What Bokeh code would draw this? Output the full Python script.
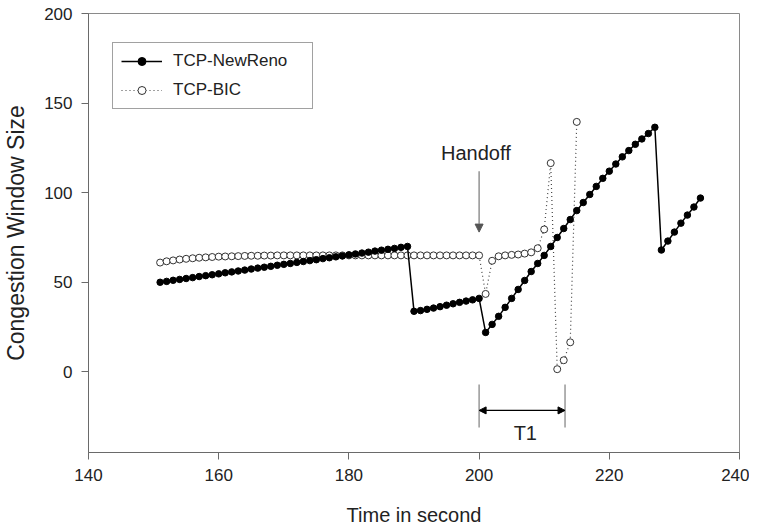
from bokeh.plotting import figure
from bokeh.models import (Arrow, NormalHead, Label, Legend, LegendItem, FixedTicker, Range1d)
from bokeh.embed import file_html
from bokeh.resources import INLINE

# ---- data ----
newreno_t = list(range(151, 190)) + list(range(190, 201)) + list(range(201, 228)) + list(range(228, 235))
newreno_cwnd = [50.0, 50.5, 51.1, 51.6, 52.1, 52.6, 53.2, 53.7, 54.2, 54.7,
                55.3, 55.8, 56.3, 56.8, 57.4, 57.9, 58.4, 58.9, 59.5, 60.0,
                60.5, 61.1, 61.6, 62.1, 62.6, 63.2, 63.7, 64.2, 64.7, 65.3,
                65.8, 66.3, 66.8, 67.4, 67.9, 68.4, 68.9, 69.5, 70.0,
                33.8, 34.2, 34.9, 35.6, 36.4, 37.2, 38.0, 38.8, 39.5, 40.2, 41.0,
                22.0, 26.5, 31.0, 36.0, 41.0, 46.0, 51.0, 56.0, 60.5, 65.0,
                70.0, 75.0, 80.0, 85.0, 90.0, 94.5, 99.0, 103.5, 108.0, 112.0,
                116.0, 120.0, 123.5, 127.0, 130.0, 133.0, 136.5,
                68.0, 73.0, 78.0, 83.0, 87.5, 92.0, 97.0]

bic_t = list(range(151, 216))
bic_cwnd = [61.0, 61.7, 62.2, 62.7, 63.1, 63.4, 63.7, 63.9, 64.1, 64.3,
            64.4, 64.5, 64.6, 64.7, 64.8, 64.8, 64.9, 64.9, 65.0, 65.0,
            65.0, 65.0, 65.0, 65.0, 65.0, 65.0, 65.0, 65.0, 65.0, 65.0,
            65.0, 65.0, 65.0, 65.0, 65.0, 65.0, 65.0, 65.0, 65.0, 65.0,
            65.0, 65.0, 65.0, 65.0, 65.0, 65.0, 65.0, 65.0, 65.0, 65.0,
            43.5, 62.0, 64.5, 65.0, 65.3, 65.5, 66.0, 66.7, 69.0, 79.5,
            116.5, 1.5, 6.5, 16.5, 139.5]

x_ticks = [140, 160, 180, 200, 220, 240]
y_ticks = [0, 50, 100, 150, 200]

handoff_time = 200
t1_end = 213.2

FONT = "Liberation Sans"
TXT = "#222222"

p = figure(frame_width=651, frame_height=439, output_backend="svg", toolbar_location=None,
           x_range=Range1d(140, 240), y_range=Range1d(-45, 200),
           min_border_left=83, min_border_top=13, min_border_right=10, min_border_bottom=68,
           background_fill_color="white", border_fill_color="white")
p.grid.visible = False
p.outline_line_color = "#8a8a8a"

for ax in (p.xaxis, p.yaxis):
    ax.axis_line_color = "#6a6a6a"
    ax.major_tick_line_color = "#6a6a6a"
    ax.major_tick_out = 7
    ax.major_tick_in = 0
    ax.minor_tick_line_color = None
    ax.major_label_text_font = FONT
    ax.major_label_text_font_size = "17px"
    ax.major_label_text_color = TXT
    ax.axis_label_text_font = FONT
    ax.axis_label_text_font_size = "20px"
    ax.axis_label_text_font_style = "normal"
    ax.axis_label_text_color = TXT
    ax.major_label_standoff = 9

p.yaxis.axis_label_text_font_size = "23px"
p.xaxis.axis_label_standoff = 20
p.yaxis.axis_label_standoff = 12
p.xaxis.ticker = FixedTicker(ticks=x_ticks)
p.yaxis.ticker = FixedTicker(ticks=y_ticks)
p.xaxis.axis_label = "Time in second"
p.yaxis.axis_label = "Congestion Window Size"

# TCP-BIC
bl = p.line(bic_t, bic_cwnd, line_color="#444444", line_width=1.2, line_dash="1 3")
bs = p.scatter(bic_t, bic_cwnd, size=7, marker="circle", fill_color="white",
               line_color="#333333", line_width=1)

# TCP-NewReno
nl = p.line(newreno_t, newreno_cwnd, line_color="black", line_width=1.5)
ns = p.scatter(newreno_t, newreno_cwnd, size=6.5, marker="circle", fill_color="black",
               line_color="black")

legend = Legend(items=[LegendItem(label="TCP-NewReno", renderers=[nl, ns]),
                       LegendItem(label="TCP-BIC", renderers=[bl, bs])],
                location=(24, 343), border_line_color="#444444", border_line_width=1,
                padding=8, spacing=9, label_height=20, glyph_height=20, glyph_width=41,
                label_standoff=11, label_width=131, margin=0,
                label_text_font=FONT, label_text_font_size="17px", label_text_color=TXT,
                background_fill_alpha=1)
p.add_layout(legend, "center")

# Handoff annotation
p.add_layout(Arrow(end=NormalHead(size=8, fill_color="#555555", line_color="#555555"),
                   x_start=handoff_time, y_start=112, x_end=handoff_time, y_end=78,
                   line_color="#777777", line_width=1.2))
p.add_layout(Label(x=handoff_time - 0.5, y=122, text="Handoff", text_align="center",
                   text_baseline="middle", text_font=FONT, text_font_size="20px",
                   text_color=TXT))

# T1 bracket
p.segment(x0=[handoff_time, t1_end], y0=[-7, -7], x1=[handoff_time, t1_end], y1=[-31, -31],
          line_color="#888888", line_width=1.3)
p.add_layout(Arrow(start=NormalHead(size=7, fill_color="black"),
                   end=NormalHead(size=7, fill_color="black"),
                   x_start=handoff_time, y_start=-21.5, x_end=t1_end, y_end=-21.5,
                   line_color="black", line_width=1.2))
p.add_layout(Label(x=207.1, y=-34, text="T1", text_align="center",
                   text_baseline="middle", text_font=FONT, text_font_size="20px",
                   text_color=TXT))

open("out.html", "w").write(file_html(p, INLINE))
